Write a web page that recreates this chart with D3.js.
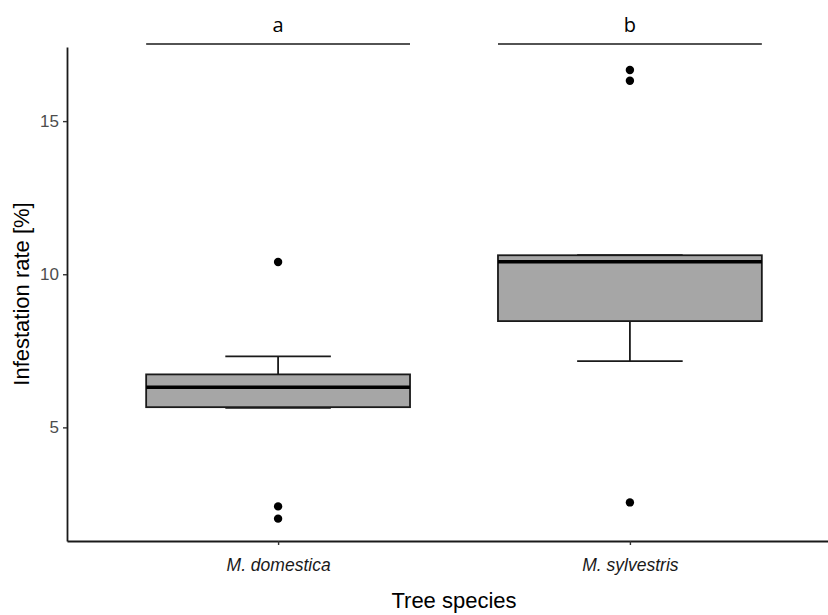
<!DOCTYPE html>
<html>
<head>
<meta charset="utf-8">
<script src="https://cdn.jsdelivr.net/npm/d3@7"></script>
<style>
  body { margin: 0; background: #fff; }
</style>
</head>
<body>
<div id="chart"></div>
<script>
const species = ["M. domestica", "M. sylvestris"];
const lowerWhisker = [5.64, 7.16];
const q1 = [5.66, 8.47];
const medians = [6.31, 10.41];
const q3 = [6.73, 10.62];
const upperWhisker = [7.32, 10.62];
const outliers = [[10.4, 2.42, 2.02], [16.67, 16.32, 2.55]];
const letters = ["a", "b"];
const yTicks = [5, 10, 15];

const W = 828, H = 615;
const margin = { top: 47, right: -13, bottom: 74, left: 67 };

const svg = d3.select("#chart")
    .append("svg")
    .attr("width", W)
    .attr("height", H);

const x = d3.scalePoint()
    .domain(species)
    .range([margin.left, W - margin.right])
    .padding(0.6);

const y = d3.scaleLinear()
    .domain([1.29, 17.42])
    .range([H - margin.bottom, margin.top]);

const boxW = x.step() * 0.75;
const ink = "#1a1a1a";

//Y axis
const yAxis = svg.append("g")
    .attr("transform", `translate(${margin.left},0)`)
    .call(d3.axisLeft(y).tickValues(yTicks).tickSize(4).tickSizeOuter(0).tickPadding(4));
yAxis.select(".domain").attr("stroke", ink).attr("stroke-width", 1.8);
yAxis.selectAll(".tick line").attr("stroke", "#333").attr("stroke-width", 1.4);
yAxis.selectAll(".tick text")
    .attr("fill", "#4d4d4d")
    .style("font-family", "Liberation Sans, Arial, sans-serif")
    .style("font-size", "17px");

//X axis
const xAxis = svg.append("g")
    .attr("transform", `translate(0,${H - margin.bottom})`)
    .call(d3.axisBottom(x).tickSize(4).tickPadding(14).tickSizeOuter(0));
xAxis.select(".domain").attr("stroke", ink).attr("stroke-width", 1.8);
xAxis.selectAll(".tick line").attr("stroke", "#333").attr("stroke-width", 1.4);
xAxis.selectAll(".tick text")
    .attr("fill", ink)
    .style("font-family", "Liberation Sans, Arial, sans-serif")
    .style("font-style", "italic")
    .style("font-size", "17.5px");

const boxes = svg.append("g")
    .selectAll("g")
    .data(species)
    .enter()
    .append("g");

//whiskers
boxes.append("line")
    .attr("x1", d => x(d)).attr("x2", d => x(d))
    .attr("y1", (d, i) => y(upperWhisker[i]))
    .attr("y2", (d, i) => y(q3[i]))
    .attr("stroke", ink).attr("stroke-width", 1.8);
boxes.append("line")
    .attr("x1", d => x(d)).attr("x2", d => x(d))
    .attr("y1", (d, i) => y(q1[i]))
    .attr("y2", (d, i) => y(lowerWhisker[i]))
    .attr("stroke", ink).attr("stroke-width", 1.8);

//caps
boxes.append("line")
    .attr("x1", d => x(d) - boxW * 0.2).attr("x2", d => x(d) + boxW * 0.2)
    .attr("y1", (d, i) => y(upperWhisker[i]))
    .attr("y2", (d, i) => y(upperWhisker[i]))
    .attr("stroke", ink).attr("stroke-width", 1.8);
boxes.append("line")
    .attr("x1", d => x(d) - boxW * 0.2).attr("x2", d => x(d) + boxW * 0.2)
    .attr("y1", (d, i) => y(lowerWhisker[i]))
    .attr("y2", (d, i) => y(lowerWhisker[i]))
    .attr("stroke", ink).attr("stroke-width", 1.8);

boxes.append("rect")
    .attr("x", d => x(d) - boxW / 2)
    .attr("width", boxW)
    .attr("y", (d, i) => y(q3[i]))
    .attr("height", (d, i) => y(q1[i]) - y(q3[i]))
    .attr("fill", "#a6a6a6")
    .attr("stroke", ink)
    .attr("stroke-width", 1.8);

//median
boxes.append("line")
    .attr("x1", d => x(d) - boxW / 2).attr("x2", d => x(d) + boxW / 2)
    .attr("y1", (d, i) => y(medians[i]))
    .attr("y2", (d, i) => y(medians[i]))
    .attr("stroke", "#000").attr("stroke-width", 3.6);

//outliers
boxes.selectAll("circle")
    .data((d, i) => outliers[i].map(v => ({ sp: d, v: v })))
    .enter()
    .append("circle")
    .attr("cx", d => x(d.sp))
    .attr("cy", d => y(d.v))
    .attr("r", 4.2)
    .attr("fill", "#000");

//significance letters
boxes.append("line")
    .attr("x1", d => x(d) - boxW / 2).attr("x2", d => x(d) + boxW / 2)
    .attr("y1", 44).attr("y2", 44)
    .attr("stroke", ink).attr("stroke-width", 1.3);
boxes.append("text")
    .attr("x", d => x(d))
    .attr("y", 32)
    .attr("text-anchor", "middle")
    .style("font-family", "Open Sans, sans-serif")
    .style("font-size", "20px")
    .attr("fill", "#000")
    .text((d, i) => letters[i]);

//Axis titles
svg.append("text")
    .attr("x", (margin.left + W - margin.right) / 2)
    .attr("y", 608)
    .attr("text-anchor", "middle")
    .style("font-family", "Liberation Sans, Arial, sans-serif")
    .style("font-size", "22px")
    .text("Tree species");

svg.append("text")
    .attr("transform", "rotate(-90)")
    .attr("x", -((margin.top + H - margin.bottom) / 2))
    .attr("y", 29)
    .attr("text-anchor", "middle")
    .style("font-family", "Liberation Sans, Arial, sans-serif")
    .style("font-size", "22px")
    .text("Infestation rate [%]");
</script>
</body>
</html>
